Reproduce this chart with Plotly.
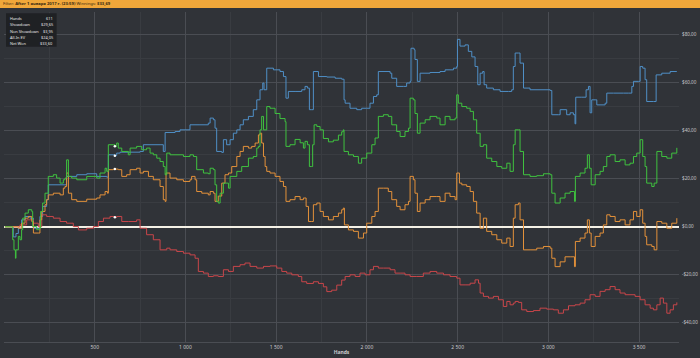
import plotly.graph_objects as go

# ---------------- data (hands, $) ----------------
showdown_hands = [5, 51, 66, 79, 97, 116, 143, 162, 189, 198, 213, 235, 244, 336, 345, 401, 456, 511, 566, 575, 612, 621, 640, 750, 768, 860, 878, 888, 943,
                  970, 1025, 1080, 1126, 1136, 1154, 1163, 1172, 1200, 1209, 1227, 1246, 1264, 1283, 1301, 1319, 1347, 1374, 1393, 1411, 1426, 1433, 1448, 1485, 1521, 1540, 1554, 1567, 1604, 1641, 1659, 1672, 1683, 1696, 1705, 1733, 1779, 1825, 1861, 1874,
                  1880, 1907, 1944, 1971, 1999, 2017, 2036, 2054, 2063, 2128, 2137, 2164, 2201, 2219, 2238, 2243, 2260, 2265, 2278, 2293, 2348, 2403, 2431, 2477, 2495, 2499, 2513, 2541, 2559, 2578, 2596, 2611, 2624, 2638, 2646, 2660, 2697, 2734, 2780, 2798,
                  2807, 2817, 2835, 2844, 2863, 2899, 2954, 3010, 3019, 3055, 3065, 3101, 3120, 3138, 3147, 3151, 3184, 3208, 3221, 3230, 3239, 3258, 3267, 3313, 3322, 3359, 3414, 3441, 3460, 3469, 3496, 3506, 3520, 3533, 3542, 3579, 3594, 3625, 3671, 3708]
showdown_won = [0, -4.2, -2.8, -0.6, 2.9, 4.3, 3.6, -0.6, -0.6, 4.3, 8.5, 11.3, 17.5, 17.5, 21.0, 21.7, 22.1, 21.0, 20.7, 30.0, 29.65, 30.7, 31.1, 31.4, 34.2, 34.2, 31.4, 39.3, 39.7,
                40.4, 42.5, 42.5, 43.2, 45.3, 44.6, 41.1, 31.4, 31.0, 36.3, 34.2, 36.3, 39.0, 40.4, 42.5, 44.6, 46.0, 48.8, 52.9, 57.1, 59.9, 57.1, 66.1, 65.4, 64.7, 62.6, 53.6, 56.4, 56.4, 57.1, 58.5, 57.8, 48.8, 48.8, 64.7, 62.6, 62.4, 61.9, 61.5, 52.9,
                51.5, 49.4, 48.8, 49.4, 49.4, 51.5, 54.3, 55.0, 64.7, 64.0, 61.9, 58.5, 58.5, 59.9, 60.6, 74.4, 73.8, 69.7, 60.6, 64.0, 64.3, 64.7, 65.4, 66.1, 66.8, 78.1, 75.3, 75.8, 73.1, 70.8, 66.8, 59.2, 64.0, 64.7, 59.2, 57.8, 57.1, 56.4, 56.4, 57.1,
                66.8, 72.4, 72.4, 68.2, 57.8, 57.1, 57.1, 56.8, 46.7, 46.7, 48.8, 46.7, 47.5, 46.7, 42.9, 54.0, 54.0, 57.1, 58.5, 47.5, 52.9, 52.9, 50.8, 51.5, 55.7, 55.7, 55.7, 55.7, 58.5, 60.6, 60.6, 66.8, 66.1, 61.3, 52.2, 52.2, 63.3, 64.0, 64.7, 64.7]

non_showdown_hands = [5, 51, 88, 125, 162, 189, 208, 235, 272, 309, 345, 382, 410, 456, 493, 520, 548, 584, 611, 621, 649, 685, 731, 750, 786, 823, 860, 897,
                      915, 952, 989, 1025, 1053, 1071, 1099, 1126, 1154, 1181, 1209, 1237, 1264, 1301, 1328, 1356, 1393, 1430, 1466, 1503, 1531, 1558, 1586, 1622, 1641, 1668, 1705, 1733, 1760, 1779, 1806, 1834, 1861,
                      1880, 1907, 1935, 1962, 1990, 2017, 2036, 2063, 2091, 2128, 2155, 2183, 2210, 2238, 2275, 2311, 2348, 2385, 2422, 2458, 2495, 2513, 2541, 2569, 2596, 2615, 2624, 2642, 2670, 2697, 2725, 2752, 2771, 2789, 2807,
                      2817, 2835, 2853, 2881, 2918, 2954, 2991, 3028, 3055, 3083, 3111, 3147, 3175, 3202, 3230, 3258, 3285, 3313, 3340, 3368, 3395, 3423, 3450, 3478, 3506, 3533, 3561, 3579, 3598, 3616, 3634, 3653, 3671, 3689, 3708]
non_showdown_won = [0, 0, 0.8, 2.9, 1.5, 0.1, 5.0, 4.3, 3.6, 2.2, 1.5, 0.1, -1.3, -0.6, 0.1, 2.2, 3.6, 4.3, 3.95, 4.3, 2.2, 2.2, 2.9, -0.6, -3.3, -5.4, -9.6, -8.9,
                    -9.6, -10.3, -11.0, -11.7, -13.1, -18.6, -19.3, -20.7, -20.4, -20.7, -17.9, -18.6, -16.5, -15.8, -15.1, -16.5, -17.2, -16.5, -16.3, -17.2, -18.6, -19.3, -20.0, -20.7, -22.9, -23.6, -22.9, -23.6, -25.0, -27.0, -26.4, -24.3, -22.2,
                    -20.7, -20.0, -20.7, -19.3, -20.0, -17.9, -16.5, -17.2, -17.2, -17.9, -19.3, -19.3, -20.0, -20.7, -20.7, -19.3, -18.6, -19.3, -20.0, -20.7, -21.4, -24.2, -24.2, -23.5, -22.1, -23.5, -27.6, -29.0, -29.7, -29.0, -30.4, -33.2, -31.1, -32.5, -31.8,
                    -31.1, -31.5, -34.6, -35.3, -34.9, -33.9, -34.3, -34.6, -36.0, -34.6, -32.9, -32.5, -31.8, -30.4, -28.3, -29.0, -26.9, -26.2, -24.9, -26.2, -27.6, -28.3, -28.3, -29.0, -30.4, -32.5, -33.9, -34.6, -32.5, -29.7, -31.8, -36.0, -34.6, -32.5, -31.5]

allin_ev_hands = [5, 51, 79, 97, 116, 134, 153, 162, 189, 198, 208, 226, 235, 244, 272, 309, 327, 336, 345, 355, 373, 401, 456, 511, 529, 557, 570, 575, 603, 630, 649, 676, 695, 731, 750, 768, 796, 823, 860, 878, 888, 893, 915,
                  952, 989, 1025, 1034, 1053, 1062, 1090, 1126, 1136, 1154, 1163, 1181, 1200, 1218, 1237, 1255, 1283, 1301, 1319, 1347, 1365, 1384, 1402, 1411, 1420, 1430, 1439, 1448, 1466, 1494, 1521, 1540, 1554, 1576, 1604, 1632, 1650, 1665, 1678, 1696, 1705, 1724, 1742, 1760, 1788, 1815, 1843, 1861, 1870, 1876,
                  1898, 1926, 1953, 1981, 1999, 2027, 2045, 2063, 2091, 2118, 2137, 2164, 2183, 2210, 2229, 2238, 2256, 2265, 2278, 2293, 2321, 2348, 2385, 2403, 2431, 2458, 2486, 2495, 2510, 2523, 2550, 2569, 2587, 2605, 2624, 2642, 2660, 2688, 2716, 2743, 2771, 2789, 2807,
                  2817, 2835, 2844, 2863, 2899, 2936, 2973, 3010, 3019, 3037, 3065, 3092, 3120, 3144, 3149, 3175, 3202, 3215, 3226, 3236, 3258, 3285, 3303, 3322, 3340, 3368, 3395, 3423, 3450, 3469, 3487, 3506, 3520, 3533, 3542, 3570, 3583, 3598, 3625, 3653, 3680, 3708]
allin_ev_won = [0, 0, -0.6, 1.5, 3.6, 4.3, 2.2, -2.6, -2.6, 2.9, 6.4, 9.2, 11.3, 13.3, 14.0, 13.3, 16.1, 16.8, 22.4, 14.0, 11.3, 10.6, 11.5, 12.0, 13.3, 14.7, 14.0, 23.8, 24.05, 23.8, 21.0, 21.7, 23.8, 24.4, 22.4, 23.1, 21.0, 19.6, 16.8, 11.3, 10.6, 22.4, 20.3,
                19.6, 18.9, 19.6, 21.0, 19.6, 14.7, 14.0, 13.3, 14.7, 14.0, 10.6, 12.8, 18.2, 21.7, 22.4, 25.1, 29.3, 31.4, 33.5, 32.8, 33.5, 34.9, 38.3, 39.0, 34.9, 29.3, 25.1, 23.1, 22.4, 21.0, 18.9, 16.8, 10.6, 11.3, 12.6, 11.3, 12.0, 8.5, 2.2, 2.2, 9.2, 9.9, 6.4, 4.3, 2.9, 4.3, 5.7, 7.1, 7.8, 0.8,
                -1.3, -1.9, -4.7, -2.6, 1.5, 4.3, 6.4, 16.1, 16.1, 14.7, 11.3, 8.5, 7.1, 9.2, 10.6, 21.0, 19.6, 14.0, 6.4, 9.9, 11.3, 12.6, 12.6, 10.6, 14.0, 12.6, 11.3, 22.4, 18.2, 17.5, 16.8, 14.7, 10.6, 5.7, -0.6, 3.6, -1.9, -3.3, -5.4, -6.8, -4.7, -8.2, 3.6,
                9.2, 9.9, 2.9, -9.6, -9.6, -8.9, -8.2, -8.9, -13.1, -16.6, -14.6, -12.5, -12.5, -16.6, -6.1, -4.7, -2.6, 2.9, -2.6, -8.2, -4.0, -2.6, 0.8, 5.0, 4.3, 2.2, 2.9, 0.8, 2.9, 6.4, 4.3, 7.1, 1.5, -4.0, -7.5, -8.2, -9.6, 2.2, 1.5, -0.6, 1.5, 3.6]

net_won_hands = [5, 42, 48, 55, 63, 66, 79, 88, 97, 103, 116, 134, 153, 158, 180, 195, 202, 213, 226, 244, 272, 290, 309, 327, 336, 345, 355, 373, 401, 456, 511, 529, 557, 566, 575, 603, 611, 621, 630, 649, 685, 695, 731, 759, 786, 805, 823, 842, 860, 878, 888, 897,
                 915, 989, 1025, 1044, 1062, 1099, 1126, 1136, 1154, 1163, 1172, 1181, 1191, 1209, 1237, 1246, 1283, 1310, 1347, 1374, 1393, 1402, 1411, 1420, 1430, 1448, 1466, 1494, 1521, 1549, 1554, 1576, 1604, 1632, 1650, 1659, 1672, 1683, 1696, 1701, 1709, 1724, 1742, 1760, 1788, 1815, 1843, 1861, 1870, 1874,
                 1898, 1926, 1953, 1971, 1999, 2027, 2045, 2063, 2091, 2118, 2137, 2164, 2183, 2210, 2229, 2238, 2256, 2265, 2278, 2293, 2321, 2348, 2385, 2403, 2431, 2458, 2486, 2495, 2504, 2523, 2550, 2569, 2587, 2605, 2624, 2642, 2660, 2688, 2716, 2743, 2771, 2789, 2807,
                 2817, 2835, 2844, 2863, 2899, 2936, 2973, 3010, 3019, 3037, 3065, 3092, 3120, 3144, 3149, 3175, 3202, 3215, 3226, 3236, 3258, 3285, 3303, 3322, 3340, 3368, 3395, 3423, 3450, 3469, 3487, 3506, 3520, 3533, 3542, 3570, 3583, 3598, 3625, 3653, 3680, 3708]
net_won = [0, 0, -5.4, -9.6, -13.1, -9.6, -4.0, -5.4, -1.2, 3.6, 5.7, 7.1, 6.4, 0.1, -1.2, -0.6, 6.4, 9.9, 14.0, 21.0, 21.7, 20.3, 18.2, 19.6, 20.3, 27.9, 21.0, 20.3, 19.6, 21.0, 20.3, 22.4, 24.4, 23.1, 34.2, 34.2, 33.6, 34.9, 32.8, 31.4, 30.0, 32.8, 33.5, 32.1, 32.8, 30.7, 30.0, 28.6, 27.2, 25.1, 21.7, 30.7,
           30.0, 29.3, 30.0, 29.3, 23.8, 22.4, 22.1, 24.4, 23.8, 17.5, 10.6, 9.9, 14.0, 18.2, 16.1, 21.0, 23.1, 25.1, 28.6, 29.3, 32.8, 33.5, 40.4, 46.0, 40.4, 50.1, 49.4, 47.2, 45.1, 43.8, 33.5, 34.2, 36.4, 35.0, 32.8, 35.6, 34.2, 25.1, 25.1, 34.2, 42.5, 41.8, 40.4, 36.8, 35.4, 36.1, 38.2, 39.6, 40.4, 31.4,
           30.0, 29.3, 26.5, 28.6, 30.7, 34.2, 37.0, 46.0, 46.7, 46.0, 42.5, 39.7, 37.6, 39.7, 41.1, 53.6, 52.9, 47.2, 39.0, 43.2, 44.6, 46.0, 45.3, 42.5, 46.0, 44.6, 45.3, 55.0, 51.5, 50.1, 49.4, 48.1, 44.6, 39.0, 33.5, 34.2, 28.6, 27.2, 25.1, 24.4, 26.5, 23.1, 34.2,
           40.4, 40.4, 31.4, 21.7, 21.0, 21.3, 22.1, 21.7, 14.0, 9.9, 12.0, 14.0, 14.7, 10.6, 21.0, 22.4, 24.4, 30.0, 24.4, 17.5, 21.7, 23.1, 25.1, 29.3, 30.0, 27.2, 27.9, 25.8, 26.5, 29.3, 30.7, 36.3, 29.3, 25.1, 18.2, 16.8, 18.2, 31.4, 29.3, 28.6, 30.7, 32.9]

# cursor read-out (hand 611)
cursor_hand = 611
cursor_labels = ["Hands", "Showdown", "Non Showdown", "All-In EV", "Net Won"]
cursor_values = ["611", "$29,65", "$3,95", "$24,05", "$33,60"]
cursor_points = [29.65, 3.95, 24.05, 33.60]

x_tickvals = [500, 1000, 1500, 2000, 2500, 3000, 3500]
x_ticktext = ["500", "1 000", "1 500", "2 000", "2 500", "3 000", "3 500"]
y_tickvals = [80, 60, 40, 20, 0, -20, -40]
y_ticktext = ["$80,00", "$60,00", "$40,00", "$20,00", "$0,00", "-$20,00", "-$40,00"]

header_text = "Filter: <b>After 1 января 2017 г. (23:59)</b> Winnings: <b>$33,69</b>"

# ---------------- figure ----------------
BG = "#303338"
fig = go.Figure()

series = [
    ("Showdown", showdown_hands, showdown_won, "#4f8fc6"),
    ("Non Showdown", non_showdown_hands, non_showdown_won, "#c8464a"),
    ("All-In EV", allin_ev_hands, allin_ev_won, "#e3913a"),
    ("Net Won", net_won_hands, net_won, "#3fc23f"),
]
for name, xs, ys, col in series:
    fig.add_trace(go.Scatter(x=xs, y=ys, mode="lines", name=name,
                             line=dict(color=col, width=1.0, shape="hv"),
                             hoverinfo="skip"))

fig.add_trace(go.Scatter(x=[cursor_hand] * len(cursor_points), y=cursor_points, mode="markers",
                         marker=dict(color="white", size=2.5), hoverinfo="skip"))

FONT = "Noto Sans"
fig.update_layout(
    width=700, height=358,
    margin=dict(l=4, r=21, t=12, b=16),
    paper_bgcolor=BG, plot_bgcolor=BG,
    showlegend=False,
    font=dict(family=FONT, color="#c8c9cc", size=5),
    xaxis=dict(range=[0, 3720], tickvals=x_tickvals, ticktext=x_ticktext,
               showgrid=True, gridcolor="#4a4d53", gridwidth=1,
               minor=dict(dtick=250, showgrid=True, gridcolor="#393c41"),
               zeroline=False, showline=True, linecolor="#4a4d53",
               ticks="", tickfont=dict(size=5, color="#c8c9cc"), automargin=False,
               title=dict(text="<b>Hands</b>", font=dict(size=5, color="#c8c9cc"), standoff=1)),
    yaxis=dict(range=[-48, 89.5], side="right", tickvals=y_tickvals, ticktext=y_ticktext,
               showgrid=True, gridcolor="#4a4d53", gridwidth=1,
               minor=dict(dtick=10, showgrid=True, gridcolor="#393c41"),
               zeroline=True, zerolinecolor="#f4f1e6", zerolinewidth=1.6,
               ticks="", ticklabelstandoff=2, automargin=False,
               tickfont=dict(size=4.6, color="#c8c9cc")),
)

# header bar
fig.add_shape(type="rect", xref="paper", yref="paper", x0=-0.01, x1=1.04, y0=1.012, y1=1.04,
              fillcolor="#f0a73a", line=dict(width=0), layer="above")
fig.add_annotation(text=header_text, xref="paper", yref="paper", x=-0.004, y=1.025,
                   xanchor="left", yanchor="middle", showarrow=False,
                   font=dict(size=4.2, color="#3a2a10", family=FONT))

# cursor read-out box
fig.add_shape(type="rect", xref="paper", yref="paper", x0=0.003, x1=0.078, y0=0.895, y1=0.996,
              fillcolor="#1f2124", line=dict(width=0), layer="above")
row_y = [0.981, 0.961, 0.942, 0.923, 0.905]
for lab, val, yy in zip(cursor_labels, cursor_values, row_y):
    fig.add_annotation(text=lab, xref="paper", yref="paper", x=0.006, y=yy, xanchor="left",
                       yanchor="middle", showarrow=False, font=dict(size=3.9, color="#e6e6e6"))
    fig.add_annotation(text=val, xref="paper", yref="paper", x=0.076, y=yy, xanchor="right",
                       yanchor="middle", showarrow=False, font=dict(size=3.9, color="#e6e6e6"))

fig.write_html("out.html", config={"displayModeBar": False},
               post_script="document.body.style.margin='0';document.body.style.background='#303338';")
